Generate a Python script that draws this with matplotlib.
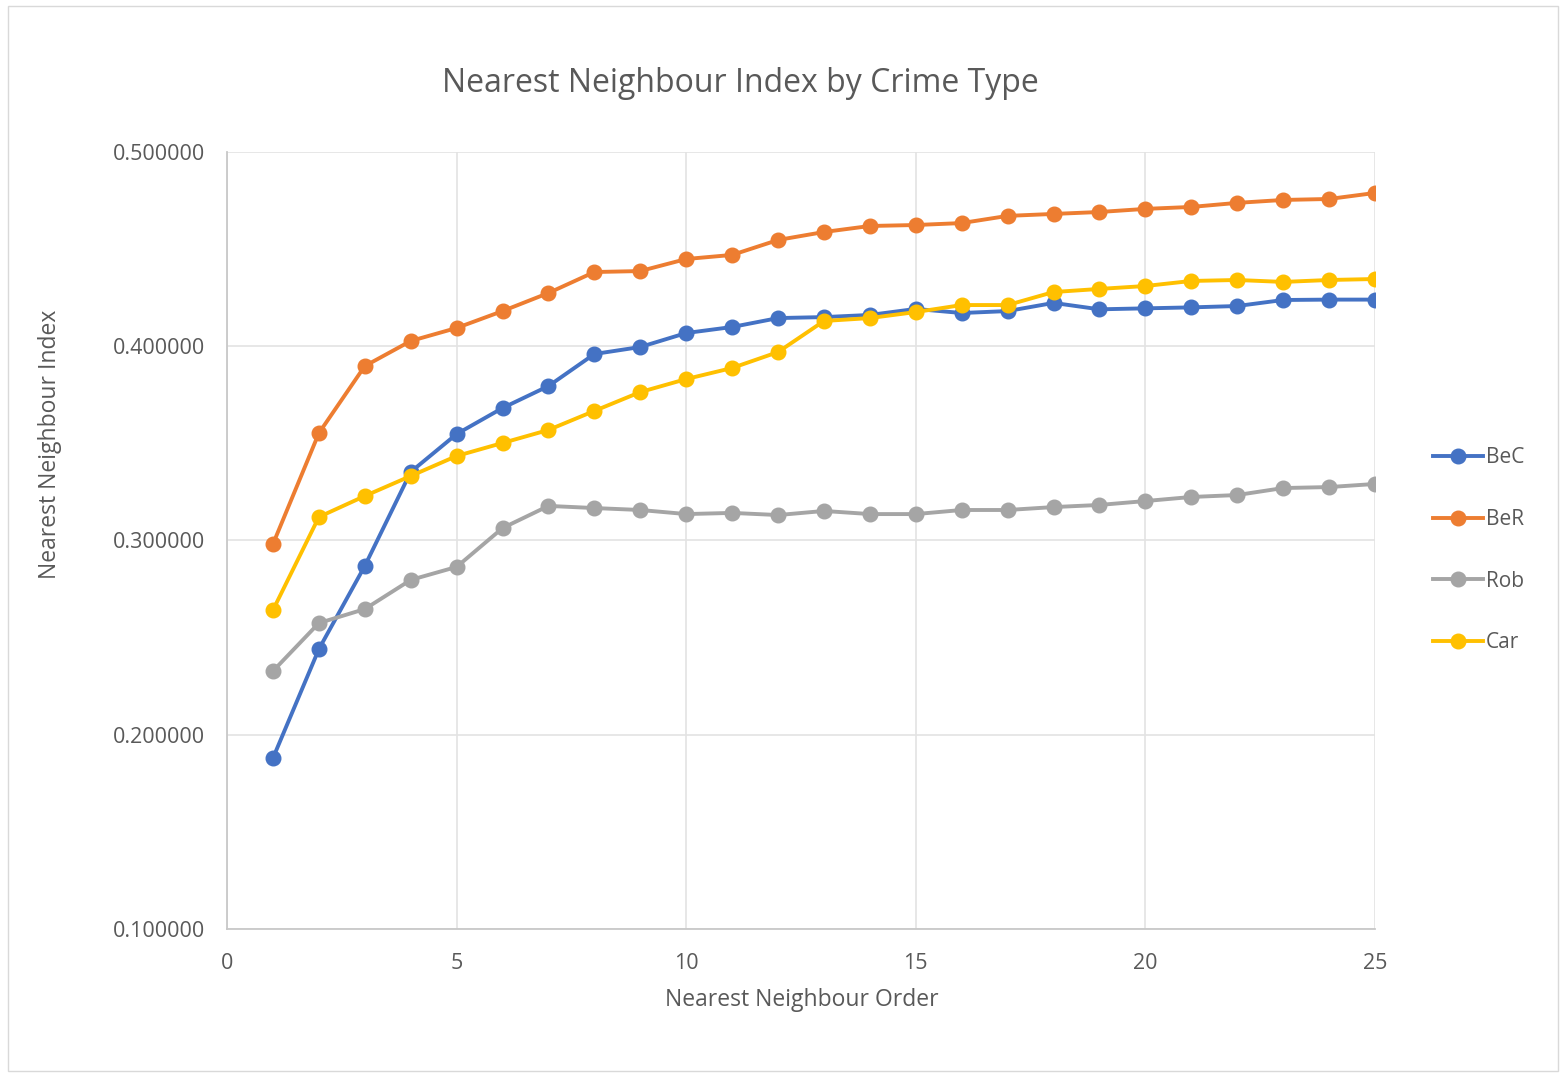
import matplotlib.pyplot as plt
from matplotlib.patches import Rectangle

# Nearest neighbour index per order for each crime type
order = list(range(1, 26))
bec = [0.1880, 0.2441, 0.2869, 0.3353, 0.3548, 0.3682, 0.3795, 0.3960, 0.3996, 0.4068,
       0.4099, 0.4145, 0.4150, 0.4161, 0.4192, 0.4171, 0.4181, 0.4223, 0.4190, 0.4195,
       0.4200, 0.4207, 0.4238, 0.4240, 0.4240]
ber = [0.2982, 0.3553, 0.3898, 0.4027, 0.4094, 0.4181, 0.4274, 0.4382, 0.4387, 0.4449,
       0.4470, 0.4547, 0.4588, 0.4619, 0.4624, 0.4634, 0.4671, 0.4681, 0.4691, 0.4707,
       0.4717, 0.4738, 0.4753, 0.4758, 0.4789]
rob = [0.2328, 0.2575, 0.2647, 0.2797, 0.2864, 0.3064, 0.3178, 0.3167, 0.3157, 0.3136,
       0.3142, 0.3131, 0.3152, 0.3136, 0.3136, 0.3157, 0.3157, 0.3172, 0.3183, 0.3203,
       0.3224, 0.3234, 0.3270, 0.3275, 0.3291]
car = [0.2642, 0.3121, 0.3229, 0.3332, 0.3435, 0.3502, 0.3569, 0.3667, 0.3764, 0.3831,
       0.3888, 0.3970, 0.4130, 0.4145, 0.4176, 0.4212, 0.4212, 0.4279, 0.4295, 0.4310,
       0.4336, 0.4341, 0.4331, 0.4341, 0.4346]

series = [("BeC", bec, "#4472C4"), ("BeR", ber, "#ED7D31"),
          ("Rob", rob, "#A5A5A5"), ("Car", car, "#FFC000")]

plt.rcParams['font.family'] = ['Open Sans', 'DejaVu Sans']
text_col = "#595959"

fig = plt.figure(figsize=(15.66, 10.74), dpi=100)
fig.patches.append(Rectangle((0.005, 0.003), 0.99, 0.991, transform=fig.transFigure,
                             fill=False, edgecolor="#d9d9d9", linewidth=1))
ax = fig.add_axes([0.145, 0.135, 0.733, 0.7235])

for name, vals, col in series:
    ax.plot(order, vals, color=col, lw=2.8, marker='o', markersize=10.5, label=name)

ax.set_xlim(0, 25)
ax.set_ylim(0.1, 0.5)
ax.set_xticks([0, 5, 10, 15, 20, 25])
ax.set_yticks([0.1, 0.2, 0.3, 0.4, 0.5])
ax.set_yticklabels([f"{v:.6f}" for v in [0.1, 0.2, 0.3, 0.4, 0.5]])
ax.grid(True, color="#e3e3e3", lw=1.2)
ax.set_axisbelow(True)
for s in ['top', 'right']:
    ax.spines[s].set_visible(False)
for s in ['left', 'bottom']:
    ax.spines[s].set_color("#c8c8c8")
    ax.spines[s].set_linewidth(1.3)
ax.tick_params(length=0, labelsize=15.5, labelcolor=text_col)
ax.tick_params(axis='y', pad=16)
ax.tick_params(axis='x', pad=17)

fig.text(0.4725, 0.922, "Nearest Neighbour Index by Crime Type", ha='center', va='center',
         fontsize=23, color=text_col)
fig.text(0.512, 0.069, "Nearest Neighbour Order", ha='center', va='center',
         fontsize=16.5, color=text_col)
fig.text(0.032, 0.586, "Nearest Neighbour Index", ha='center', va='center',
         rotation=90, fontsize=16.5, color=text_col)

fig.legend(loc='center left', bbox_to_anchor=(0.903, 0.4876), frameon=False,
           fontsize=15, labelcolor=text_col, handlelength=2.4, labelspacing=1.95,
           handletextpad=0.15)

fig.savefig("out.png", dpi=100)
